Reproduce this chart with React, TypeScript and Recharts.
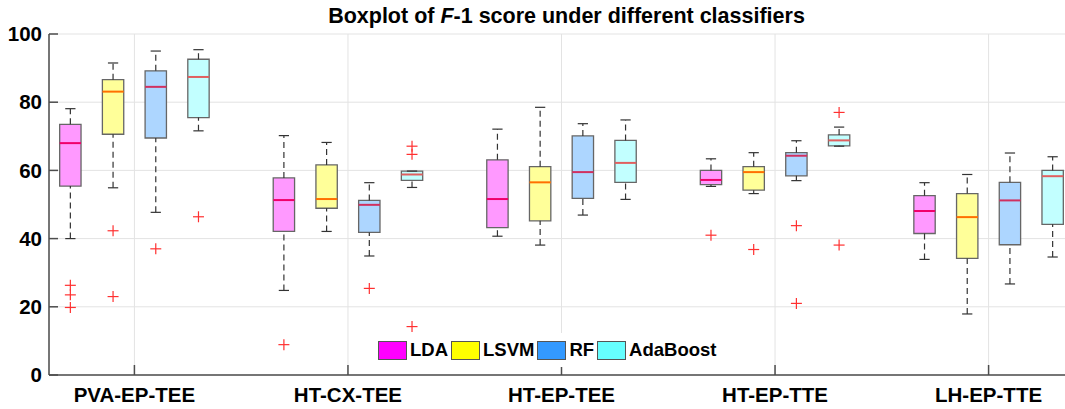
import React from 'react'
import {
  ComposedChart,
  XAxis,
  YAxis,
  CartesianGrid,
  ReferenceArea,
  ReferenceLine,
  Scatter,
} from 'recharts'

const categories = ['PVA-EP-TEE', 'HT-CX-TEE', 'HT-EP-TEE', 'HT-EP-TTE', 'LH-EP-TTE']
const classifiers = ['LDA', 'LSVM', 'RF', 'AdaBoost']

// [min, q1, median, q3, max] for each category
const ldaBox = [
  [40.0, 55.4, 68.0, 73.5, 78.1],
  [24.8, 42.1, 51.3, 57.8, 70.2],
  [40.7, 43.2, 51.6, 63.1, 72.1],
  [55.3, 55.8, 57.2, 60.0, 63.4],
  [33.9, 41.5, 48.1, 52.6, 56.4],
]
const lsvmBox = [
  [54.9, 70.6, 83.1, 86.6, 91.5],
  [42.1, 48.9, 51.6, 61.6, 68.2],
  [38.1, 45.2, 56.5, 61.1, 78.5],
  [53.2, 54.2, 59.5, 61.1, 65.2],
  [17.9, 34.2, 46.3, 53.2, 58.8],
]
const rfBox = [
  [47.7, 69.5, 84.5, 89.2, 95.0],
  [34.9, 41.8, 49.9, 51.2, 56.4],
  [46.9, 51.8, 59.5, 70.1, 73.7],
  [57.0, 58.4, 64.3, 65.2, 68.7],
  [26.7, 38.2, 51.2, 56.5, 65.1],
]
const adaBox = [
  [71.6, 75.5, 87.4, 92.6, 95.4],
  [55.0, 57.1, 58.8, 59.8, 59.8],
  [51.5, 56.5, 62.2, 68.8, 74.8],
  [67.1, 67.2, 68.8, 70.4, 72.7],
  [34.6, 44.2, 58.3, 60.0, 64.0],
]

// outliers: [category index, value]
const ldaOutliers = [[0, 26.3], [0, 23.5], [0, 19.8], [1, 8.9], [3, 41.0]]
const lsvmOutliers = [[0, 42.3], [0, 23.0], [3, 36.8]]
const rfOutliers = [[0, 37.0], [1, 25.4], [3, 43.8], [3, 21.0]]
const adaOutliers = [[0, 46.4], [1, 67.1], [1, 64.7], [1, 14.2], [3, 77.0], [3, 38.1]]

const yTicks = [0, 20, 40, 60, 80, 100]

const boxes = [ldaBox, lsvmBox, rfBox, adaBox]
const outliers = [ldaOutliers, lsvmOutliers, rfOutliers, adaOutliers]
const legendColors = ['#FF00FF', '#FFFF00', '#3399FF', '#66FFFF']
const boxFills = ['#FF99FF', '#FFFF99', '#ADD6FF', '#C2FFFF']
const medianColors = ['#F0006A', '#FF7000', '#D03060', '#E06060']

// each category takes 5 slots: 4 boxes + a gap
const slot = (g: number, c: number) => 5 * g + c + 1
const groupTicks = categories.map((_, g) => 5 * g + 2.5)

const outlierData = outliers.flatMap((list, c) =>
  list.map(([g, v]) => ({ x: slot(g, c), y: v }))
)

const Plus = (props: any) => {
  const { cx, cy } = props
  if (cx == null || cy == null) return null
  return (
    <g stroke="#FF3030" strokeWidth={1.2}>
      <line x1={cx - 5.5} x2={cx + 5.5} y1={cy} y2={cy} />
      <line x1={cx} x2={cx} y1={cy - 5.5} y2={cy + 5.5} />
    </g>
  )
}

const HALF = 0.25
const CAP = 0.12
const axisColor = '#4D4D4D'
const font = "'Liberation Sans', Arial, sans-serif"

export default function App() {
  const parts: React.ReactNode[] = []
  boxes.forEach((box, c) => {
    box.forEach(([min, q1, med, q3, max], g) => {
      const x = slot(g, c)
      const k = `${c}-${g}`
      if (max > q3)
        parts.push(
          <ReferenceLine key={`wu${k}`} segment={[{ x, y: q3 }, { x, y: max }]} stroke="#333" strokeWidth={1.2} strokeDasharray="6 4" />
        )
      if (min < q1)
        parts.push(
          <ReferenceLine key={`wl${k}`} segment={[{ x, y: min }, { x, y: q1 }]} stroke="#333" strokeWidth={1.2} strokeDasharray="6 4" />
        )
      parts.push(
        <ReferenceLine key={`cu${k}`} segment={[{ x: x - CAP, y: max }, { x: x + CAP, y: max }]} stroke="#333" strokeWidth={1.2} />,
        <ReferenceLine key={`cl${k}`} segment={[{ x: x - CAP, y: min }, { x: x + CAP, y: min }]} stroke="#333" strokeWidth={1.2} />,
        <ReferenceArea key={`b${k}`} x1={x - HALF} x2={x + HALF} y1={q1} y2={q3} fill={boxFills[c]} fillOpacity={1} stroke="#666" strokeWidth={1.3} />,
        <ReferenceLine key={`m${k}`} segment={[{ x: x - HALF, y: med }, { x: x + HALF, y: med }]} stroke={medianColors[c]} strokeWidth={2} />
      )
    })
  })

  return (
    <div style={{ position: 'absolute', left: 0, top: 0, width: 1065, height: 409, overflow: 'hidden', background: '#fff', fontFamily: font }}>
      <div style={{ position: 'absolute', left: 54, top: 4, width: 1025, textAlign: 'center', fontSize: 21.5, fontWeight: 'bold', color: '#000' }}>
        Boxplot of <i>F</i>-1 score under different classifiers
      </div>
      <ComposedChart width={1080} height={409} margin={{ top: 34, right: 6, bottom: 0, left: 0 }}>
        <CartesianGrid stroke="#E3E3E3" strokeWidth={1} />
        <XAxis
          type="number"
          dataKey="x"
          domain={[0.5, 24.5]}
          ticks={groupTicks}
          tickFormatter={(v: number) => categories[Math.round((v - 2.5) / 5)]}
          allowDataOverflow
          height={34}
          tickSize={-10}
          tickMargin={22}
          stroke={axisColor}
          strokeWidth={1.5}
          tick={{ fill: '#000', fontSize: 20.5, fontWeight: 'bold', fontFamily: font }}
        />
        <XAxis
          xAxisId="top"
          orientation="top"
          type="number"
          domain={[0.5, 24.5]}
          ticks={groupTicks}
          height={0}
          tickSize={-10}
          tick={false}
          stroke={axisColor}
          strokeWidth={1.5}
        />
        <YAxis
          type="number"
          domain={[0, 100]}
          ticks={yTicks}
          width={49}
          tickSize={-9}
          tickMargin={16}
          stroke={axisColor}
          strokeWidth={1.5}
          tick={{ fill: '#000', fontSize: 20.5, fontWeight: 'bold', fontFamily: font }}
        />
        {parts}
        <Scatter data={outlierData} dataKey="y" shape={<Plus />} isAnimationActive={false} />
      </ComposedChart>
      <div
        style={{
          position: 'absolute',
          left: 374,
          top: 333,
          height: 34,
          padding: '0 4px',
          background: '#fff',
          display: 'flex',
          alignItems: 'center',
          fontSize: 18.5,
          fontWeight: 'bold',
          color: '#000',
        }}
      >
        {classifiers.map((name, i) => (
          <div key={name} style={{ display: 'flex', alignItems: 'center', marginRight: 3 }}>
            <div style={{ width: 27, height: 17, background: legendColors[i], border: '1px solid #555', marginRight: 3 }} />
            <span>{name}</span>
          </div>
        ))}
      </div>
    </div>
  )
}
